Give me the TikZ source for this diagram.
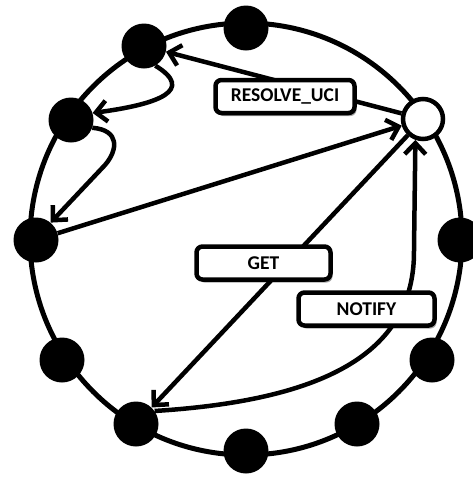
\documentclass[tikz,border=0pt]{standalone}
\usepackage{fontspec}
\setsansfont{Carlito}
\usetikzlibrary{arrows.meta,shadows}

\begin{document}
\begin{tikzpicture}[x=1pt,y=-1pt,
  peer/.style={circle, fill=black, minimum size=45pt, inner sep=0pt},
  selfpeer/.style={circle, draw=black, fill=white, line width=4.5pt, minimum size=40pt, inner sep=0pt},
  msg/.style={draw=black, fill=white, line width=4.5pt, rounded corners=6pt,
    minimum height=33pt, inner sep=0pt,
    font=\sffamily\bfseries\fontsize{19.5}{22}\selectfont,
    drop shadow={shadow xshift=2pt, shadow yshift=-3pt, opacity=0.35, fill=black}},
  link/.style={line width=4.5pt},
  tipend/.style={-{Straight Barb[length=11pt,width=21pt]}}
]
\useasboundingbox (0,0) rectangle (473,477);

% the ring
\draw[line width=5pt] (246,239) circle[radius=216pt];

% peers on the ring
\node[peer] (p1) at (246,28) {};
\node[peer] (p2) at (144,46) {};
\node[peer] (p3) at (71,120) {};
\node[peer] (p4) at (36,240) {};
\node[peer] (p5) at (62,360) {};
\node[peer] (p6) at (136,424) {};
\node[peer] (p7) at (246,451) {};
\node[peer] (p8) at (357,424) {};
\node[peer] (p9) at (432,360) {};
\node[peer] (p10) at (460,240) {};
\node[selfpeer] (me) at (423,119) {};

% messages
\draw[link,tipend] (me) -- (p2);
\draw[link,tipend] (p2.-60) .. controls (195,90) and (160,104) .. (p3.18);
\draw[link,tipend] (p3.-20) .. controls (120,130) and (118,150) .. (105,165) -- (p4.50);
\draw[link,tipend] (p4) -- (me);
\draw[link,tipend] (me) -- (p6);
\draw[link,tipend] (p6.35) .. controls (330,400) and (415,350) .. (414,250) -- (me.250);

% message labels
\node[msg, minimum width=139pt] (resolve) at (285,96.5) {RESOLVE\_UCI};
\node[msg, minimum width=134pt] (get) at (263.5,263) {GET};
\node[msg, minimum width=136pt] (notify) at (366.5,309) {NOTIFY};
\end{tikzpicture}
\end{document}
